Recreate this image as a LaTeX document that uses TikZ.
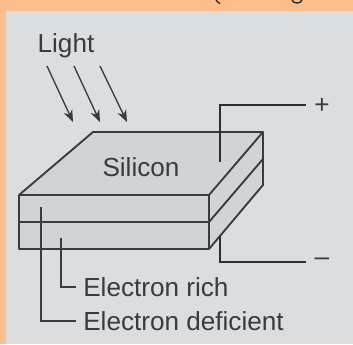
\documentclass[tikz,border=0pt]{standalone}
\usepackage{fontspec}
\setmainfont{Liberation Sans}
\usetikzlibrary{arrows.meta}
\definecolor{bgorange}{HTML}{FDBE8C}
\definecolor{panel}{HTML}{DCDDDF}
\definecolor{slab}{HTML}{D2D3D5}
\definecolor{ink}{HTML}{3A3B40}
\tikzset{
  edge/.style={draw=ink,line width=1.4pt,line join=round},
  wire/.style={draw=ink!80!black,line width=2pt},
  leader/.style={draw=ink,line width=1.2pt},
  ray/.style={draw=ink,line width=1pt,-{Stealth[length=9pt,width=7pt]}},
  lab/.style={text=ink,font=\fontsize{19.6pt}{22pt}\selectfont,inner sep=0pt,anchor=west},
}
\begin{document}
\begin{tikzpicture}[x=0.75pt,y=-0.75pt]
\useasboundingbox (0,0) rectangle (353,344);
\fill[bgorange] (0,0) rectangle (353,344);
\fill[panel] (6,11) rectangle (353,344);
\draw[black!85,line width=1pt] (216,0) .. controls (217,1.5) and (218,2.5) .. (220,3.5);
\draw[black!85,line width=1pt] (292,0) .. controls (293,4) and (301,4) .. (302,0);
\coordinate (a) at (19,195); \coordinate (b) at (209,195);
\coordinate (c) at (263,132); \coordinate (d) at (93,132);
\coordinate (am) at (19,222); \coordinate (bm) at (209,222);
\coordinate (ab) at (19,249); \coordinate (bb) at (209,249);
\coordinate (cm) at (263,159); \coordinate (cb) at (263,185);
\fill[slab] (a)--(d)--(c)--(cb)--(bb)--(ab)--cycle;
\draw[edge] (a)--(d)--(c)--(b)--cycle;
\draw[edge] (a)--(ab)--(bb)--(b);
\draw[edge] (am)--(bm)--(cm);
\draw[edge] (c)--(cb)--(bb);
\coordinate (pw) at (220,162); \coordinate (pk) at (220,105); \coordinate (pe) at (306,105);
\coordinate (nw) at (220,236); \coordinate (nk) at (220,262); \coordinate (ne) at (306,262);
\draw[wire] (pw)--(pk)--(pe);
\draw[wire] (nw)--(nk)--(ne);
\node[lab,anchor=center] (plus) at (322,106) {+};
\node[lab,anchor=center] (minus) at (322,262) {–};
\node[lab,anchor=center] (light) at (66,46) {Light};
\node[lab,anchor=center] (si) at (141,167) {Silicon};
\node[lab] (rich) at (83,287) {Electron rich};
\node[lab] (def) at (83,321) {Electron deficient};
\coordinate (r1s) at (47,66); \coordinate (r1e) at (73,122);
\coordinate (r2s) at (74,66); \coordinate (r2e) at (100,122);
\coordinate (r3s) at (100,66); \coordinate (r3e) at (127,122);
\draw[ray] (r1s)--(r1e);
\draw[ray] (r2s)--(r2e);
\draw[ray] (r3s)--(r3e);
\coordinate (l1) at (61,238); \coordinate (l1k) at (61,287); \coordinate (l1e) at (76,287);
\coordinate (l2) at (41,207); \coordinate (l2k) at (41,321); \coordinate (l2e) at (76,321);
\draw[leader] (l1)--(l1k)--(l1e);
\draw[leader] (l2)--(l2k)--(l2e);
\end{tikzpicture}
\end{document}
